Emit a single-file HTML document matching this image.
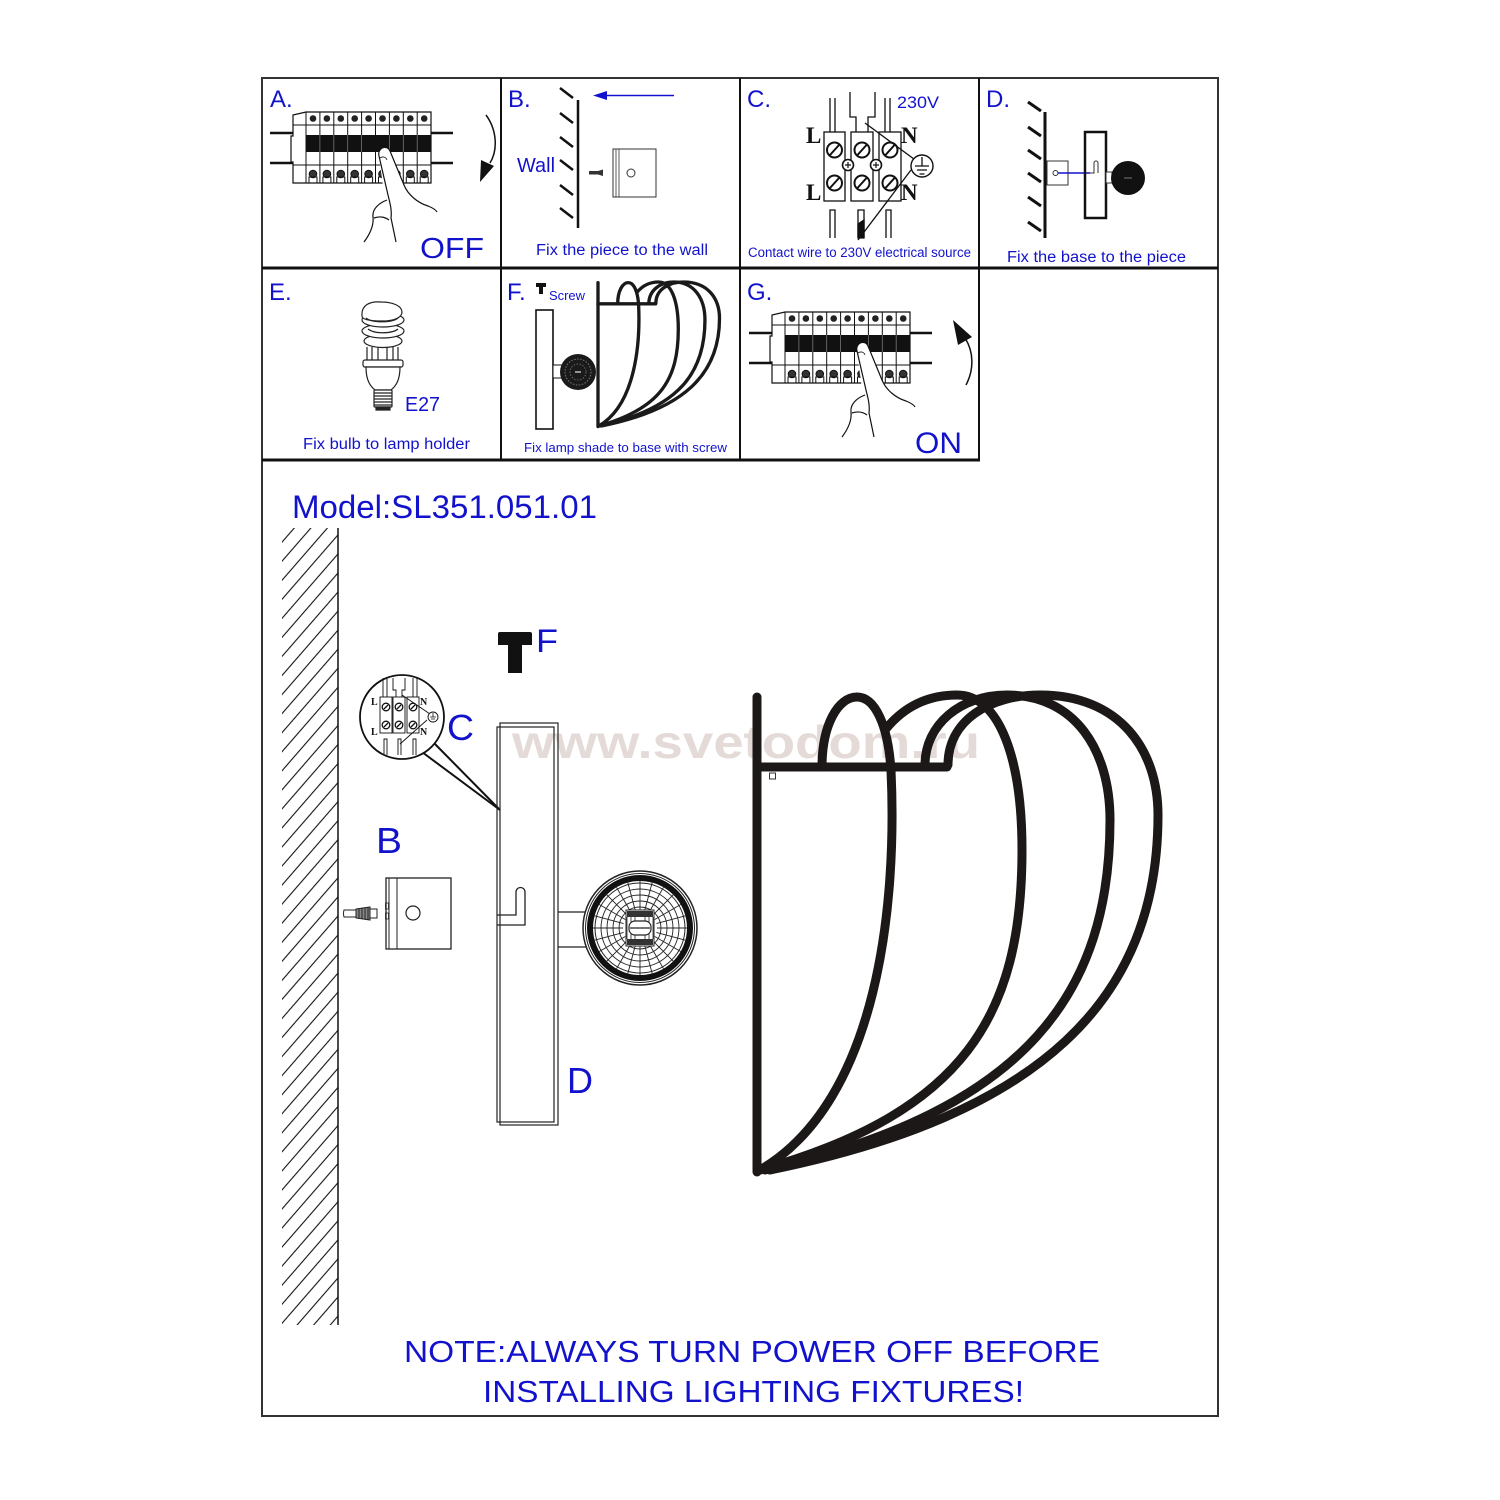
<!DOCTYPE html>
<html>
<head>
<meta charset="utf-8">
<style>
html,body{margin:0;padding:0;background:#fff;}
svg{display:block;}
text{font-family:"Liberation Sans",Arial,sans-serif;}
.bl{fill:#1212cc;}
.serif{font-family:"Liberation Serif","Times New Roman",serif;font-weight:bold;fill:#111;}
</style>
</head>
<body>
<svg width="1500" height="1500" viewBox="0 0 1500 1500" xmlns="http://www.w3.org/2000/svg">
<rect x="0" y="0" width="1500" height="1500" fill="#fff"/>

<defs>
<pattern id="hatch" patternUnits="userSpaceOnUse" width="12" height="12.5" patternTransform="rotate(-49)">
  <line x1="0" y1="6" x2="12" y2="6" stroke="#111" stroke-width="1.1"/>
</pattern>
</defs>

<!-- watermark -->
<text x="512" y="758" font-size="46" font-weight="bold" fill="#e4dbd8" textLength="468" lengthAdjust="spacingAndGlyphs">www.svetodom.ru</text>

<!-- outer border and grid -->
<rect x="262" y="78" width="956" height="1338" fill="none" stroke="#333" stroke-width="2"/>
<line x1="262" y1="268" x2="1218" y2="268" stroke="#111" stroke-width="3"/>
<line x1="262" y1="460" x2="980" y2="460" stroke="#111" stroke-width="3"/>
<line x1="501" y1="78" x2="501" y2="460" stroke="#111" stroke-width="2"/>
<line x1="740" y1="78" x2="740" y2="460" stroke="#111" stroke-width="2"/>
<line x1="979" y1="78" x2="979" y2="460" stroke="#111" stroke-width="2"/>

<!-- ============ A ============ -->
<text x="270" y="107" font-size="24" class="bl">A.</text>
<g id="brkA" transform="translate(292,112)" stroke="#111" fill="none">
  <path d="M-22,21 H1 M-22,51 H1 M139,21 H161 M139,51 H161" stroke-width="2.5"/>
  <path d="M14,0 H139 V71 H1 V50 H-1 V24 H1 V3 Z" fill="#fff" stroke-width="1.2"/>
  <path d="M14,0 V71 M27.9,0 V71 M41.8,0 V71 M55.7,0 V71 M69.6,0 V71 M83.5,0 V71 M97.4,0 V71 M111.3,0 V71 M125.2,0 V71 M1,13 H139 M1,53 H139" stroke-width="1"/>
  <rect x="14" y="23" width="125" height="17" fill="#111" stroke="none"/>
  <path d="M27.9,23 V40 M41.8,23 V40 M55.7,23 V40 M69.6,23 V40 M97.4,23 V40 M111.3,23 V40 M125.2,23 V40" stroke="#777" stroke-width="0.8"/>
  <g fill="#222" stroke="none">
    <circle cx="21" cy="6.5" r="3.3"/><circle cx="34.9" cy="6.5" r="3.3"/><circle cx="48.8" cy="6.5" r="3.3"/>
    <circle cx="62.7" cy="6.5" r="3.3"/><circle cx="76.6" cy="6.5" r="3.3"/><circle cx="90.5" cy="6.5" r="3.3"/>
    <circle cx="104.4" cy="6.5" r="3.3"/><circle cx="118.3" cy="6.5" r="3.3"/><circle cx="132.2" cy="6.5" r="3.3"/>
  </g>
  <g stroke-width="1">
    <circle cx="21" cy="62" r="3.8" fill="#333"/><circle cx="34.9" cy="62" r="3.8" fill="#333"/><circle cx="48.8" cy="62" r="3.8" fill="#333"/>
    <circle cx="62.7" cy="62" r="3.8" fill="#333"/><circle cx="76.6" cy="62" r="3.8" fill="#333"/><circle cx="90.5" cy="62" r="3.8" fill="#333"/>
    <circle cx="104.4" cy="62" r="3.8" fill="#333"/><circle cx="118.3" cy="62" r="3.8" fill="#333"/><circle cx="132.2" cy="62" r="3.8" fill="#333"/>
    <path d="M17,71 V65 H25 V71 M30.9,71 V65 H38.9 V71 M44.8,71 V65 H52.8 V71 M58.7,71 V65 H66.7 V71 M72.6,71 V65 H80.6 V71 M86.5,71 V65 H94.5 V71 M100.4,71 V65 H108.4 V71 M114.3,71 V65 H122.3 V71 M128.2,71 V65 H136.2 V71"/>
  </g>
</g>
<g id="handA" stroke="#111" stroke-width="1.2" fill="none">
  <path d="M379,156 C377,148 387,144 390,151 L404,185 C408,195 418,203 428,206 C433,208 436,210 437,212 L420,236 L366,244 L372,214 L385,202 Z" fill="#fff" stroke="none"/>
  <path d="M379,156 C377,148 387,144 390,151 L404,185 C408,195 418,203 428,206 C433,208 436,210 437,212"/>
  <path d="M379,156 L388,195 C390,203 392,210 391,218 L396,242"/>
  <path d="M387,200 C379,203 372,209 373,217 C374,226 370,234 364,242"/>
  <path d="M374,218 C380,216 385,217 389,220"/>
  <path d="M380,158 C383,156 386,157 387,160" stroke-width="0.8"/>
</g>
<path d="M486,115 C497,130 498,150 490,163" fill="none" stroke="#111" stroke-width="1.5"/>
<polygon points="480,182 481,160 494,166" fill="#111"/>
<text x="420" y="258" font-size="29" class="bl" textLength="64" lengthAdjust="spacingAndGlyphs">OFF</text>

<!-- ============ B ============ -->
<text x="508" y="107" font-size="24" class="bl">B.</text>
<line x1="600" y1="95.5" x2="674" y2="95.5" stroke="#1212cc" stroke-width="1.5"/>
<polygon points="593,95.5 607,91 607,100" fill="#1212cc"/>
<line x1="578" y1="100" x2="578" y2="228" stroke="#111" stroke-width="2.5"/>
<g stroke="#111" stroke-width="2.5">
  <line x1="560" y1="88" x2="573" y2="98"/><line x1="560" y1="113" x2="573" y2="123"/>
  <line x1="560" y1="137" x2="573" y2="147"/><line x1="560" y1="160" x2="573" y2="170"/>
  <line x1="560" y1="185" x2="573" y2="195"/><line x1="560" y1="208" x2="573" y2="218"/>
</g>
<text x="517" y="172" font-size="20" class="bl" textLength="38" lengthAdjust="spacingAndGlyphs">Wall</text>
<rect x="613" y="149" width="43" height="48" fill="#fff" stroke="#333" stroke-width="1"/>
<line x1="616" y1="149" x2="616" y2="197" stroke="#333" stroke-width="0.8"/>
<line x1="619" y1="149" x2="619" y2="197" stroke="#333" stroke-width="0.8"/>
<circle cx="631" cy="173" r="4" fill="none" stroke="#333" stroke-width="1"/>
<path d="M589,171 H598 L603,169.5 V176 L598,174.5 H589 Z" fill="#333"/>
<text x="536" y="255" font-size="15.5" class="bl" textLength="172" lengthAdjust="spacingAndGlyphs">Fix the piece to the wall</text>

<!-- ============ C ============ -->
<text x="747" y="107" font-size="24" class="bl">C.</text>
<g stroke="#111" fill="none" stroke-width="1.3">
  <path d="M830,98 V132 M835,98 V132 M885,98 V132 M890,98 V132"/>
  <path d="M850,92 V117 H856 V132 M875,92 V117 H868 V132"/>
  <rect x="824" y="132" width="21" height="69" fill="#fff"/>
  <rect x="851" y="132" width="22" height="69" fill="#fff"/>
  <rect x="879" y="132" width="22" height="69" fill="#fff"/>
  <g stroke-width="2">
    <circle cx="834.5" cy="150" r="7.5"/><line x1="830" y1="155" x2="839" y2="145"/>
    <circle cx="862" cy="150" r="7.5"/><line x1="857.5" y1="155" x2="866.5" y2="145"/>
    <circle cx="890" cy="150" r="7.5"/><line x1="885.5" y1="155" x2="894.5" y2="145"/>
    <circle cx="834.5" cy="183" r="7.5"/><line x1="830" y1="188" x2="839" y2="178"/>
    <circle cx="862" cy="183" r="7.5"/><line x1="857.5" y1="188" x2="866.5" y2="178"/>
    <circle cx="890" cy="183" r="7.5"/><line x1="885.5" y1="188" x2="894.5" y2="178"/>
  </g>
  <circle cx="848" cy="165" r="5.5" fill="#fff" stroke-width="1.6"/>
  <path d="M845,165 H851 M848,162 V168" stroke-width="1.2"/>
  <circle cx="876" cy="165" r="5.5" fill="#fff" stroke-width="1.6"/>
  <path d="M873,165 H879 M876,162 V168" stroke-width="1.2"/>
  <line x1="865" y1="123" x2="918" y2="162"/>
  <line x1="911" y1="170" x2="858" y2="240"/>
  <circle cx="922" cy="166" r="11" fill="#fff" stroke-width="1.4"/>
  <path d="M922,157 V166 M915,166 H929 M917,170 H927 M919.5,174 H924.5" stroke-width="1.3"/>
  <path d="M830,238 V210 H835 V238 M858,238 V210 H864 V238 M886,238 V210 H891 V238"/>
  <path d="M858,224 L864,220 V238 H858 Z" fill="#111"/>
</g>
<text x="806" y="143" font-size="23" class="serif">L</text>
<text x="806" y="200" font-size="23" class="serif">L</text>
<text x="901" y="143" font-size="23" class="serif">N</text>
<text x="901" y="200" font-size="23" class="serif">N</text>
<text x="897" y="108" font-size="17" class="bl" textLength="42" lengthAdjust="spacingAndGlyphs">230V</text>
<text x="748" y="257" font-size="13.5" class="bl" textLength="223" lengthAdjust="spacingAndGlyphs">Contact wire to 230V electrical source</text>

<!-- ============ D ============ -->
<text x="986" y="107" font-size="24" class="bl">D.</text>
<line x1="1045" y1="112" x2="1045" y2="238" stroke="#111" stroke-width="3"/>
<g stroke="#111" stroke-width="3">
  <line x1="1028" y1="102" x2="1041" y2="111"/><line x1="1028" y1="127" x2="1041" y2="136"/>
  <line x1="1028" y1="150" x2="1041" y2="159"/><line x1="1028" y1="173" x2="1041" y2="182"/>
  <line x1="1028" y1="197" x2="1041" y2="206"/><line x1="1028" y1="222" x2="1041" y2="231"/>
</g>
<rect x="1047" y="161" width="21" height="24" fill="#fff" stroke="#333" stroke-width="1"/>
<circle cx="1055.5" cy="173" r="2.5" fill="none" stroke="#333" stroke-width="1"/>
<line x1="1058" y1="173" x2="1090" y2="173" stroke="#1212cc" stroke-width="1.5"/>
<rect x="1085" y="132" width="21" height="86" fill="none" stroke="#111" stroke-width="2.5"/>
<path d="M1090,173 H1094 V163 A2,2 0 0 1 1098,163 V173" fill="none" stroke="#333" stroke-width="1"/>
<rect x="1106" y="172" width="6" height="11" fill="#fff" stroke="#333" stroke-width="1"/>
<circle cx="1128" cy="178" r="17" fill="#111"/>
<line x1="1124" y1="178" x2="1132" y2="178" stroke="#777" stroke-width="1"/>
<text x="1007" y="262" font-size="15.5" class="bl" textLength="179" lengthAdjust="spacingAndGlyphs">Fix the base to the piece</text>

<!-- ============ E ============ -->
<text x="269" y="300" font-size="24" class="bl">E.</text>
<g stroke="#222" stroke-width="1.2" fill="#fff">
  <path d="M367,347 V362 M372,347 V360 M378,347 V362 M387,347 V362 M393,347 V360 M398,347 V362" fill="none"/>
  <ellipse cx="383" cy="341" rx="19" ry="6.5"/>
  <ellipse cx="383" cy="331" rx="21" ry="7"/>
  <ellipse cx="383" cy="320" rx="21" ry="7"/>
  <path d="M362,316 C361,305 370,301 381,302 C393,302 402,306 402,312 C402,318 393,321 382,321 C371,321 362,320 362,316 Z"/>
  <path d="M366,318 C372,323 392,323 398,318" fill="none"/>
  <path d="M368,329 C374,334 392,334 398,329" fill="none"/>
  <rect x="363" y="360" width="40" height="7" rx="2"/>
  <path d="M366,367 H400 C400,380 396,386 391,390 H375 C370,386 366,380 366,367 Z"/>
  <rect x="374" y="390" width="18" height="17" rx="1"/>
  <path d="M374,393 H392 M374,396 H392 M374,399 H392 M374,402 H392 M374,405 H392" fill="none"/>
  <path d="M376,407 H390 V410 H376 Z" fill="#222"/>
</g>
<text x="405" y="411" font-size="20" class="bl" textLength="35" lengthAdjust="spacingAndGlyphs">E27</text>
<text x="303" y="449" font-size="15.5" class="bl" textLength="167" lengthAdjust="spacingAndGlyphs">Fix bulb to lamp holder</text>

<!-- ============ F ============ -->
<text x="507" y="300" font-size="24" class="bl">F.</text>
<path d="M536,283 H546 V287 H543 V294 H539 V287 H536 Z" fill="#111"/>
<text x="549" y="300" font-size="13" class="bl" textLength="36" lengthAdjust="spacingAndGlyphs">Screw</text>
<rect x="536" y="310" width="17" height="119" fill="none" stroke="#111" stroke-width="1.6"/>
<rect x="553" y="365" width="9" height="13" fill="#fff" stroke="#111" stroke-width="1"/>
<circle cx="578" cy="372" r="18" fill="#1a1a1a"/>
<circle cx="578" cy="372" r="13" fill="none" stroke="#777" stroke-width="1" stroke-dasharray="1.5 1.5"/>
<circle cx="578" cy="372" r="8" fill="none" stroke="#666" stroke-width="1" stroke-dasharray="1.5 1.5"/>
<line x1="575" y1="372" x2="581" y2="372" stroke="#bbb" stroke-width="1.5"/>
<g transform="translate(598,282) scale(0.303) translate(-757,-695)" fill="none" stroke="#1a1a1a" stroke-width="11" stroke-linecap="round" stroke-linejoin="round">
  <path d="M757,697 V1172"/>
  <path d="M757,767 H947"/>
  <path d="M822,767 C822,725 838,697 857,697 C875,697 888,725 891,770 C897,900 880,1100 760,1170"/>
  <path d="M885,730 C905,705 930,695 957,695 C1000,695 1022,760 1022,850 C1022,1015 965,1112 760,1170"/>
  <path d="M925,765 C925,725 960,695 1007,695 C1075,695 1110,750 1110,820 C1110,990 1030,1110 765,1170"/>
  <path d="M948,765 C948,720 990,695 1040,695 C1120,695 1158,750 1158,815 C1158,1000 1040,1115 770,1170"/>
</g>
<text x="524" y="452" font-size="13" class="bl" textLength="203" lengthAdjust="spacingAndGlyphs">Fix lamp shade to base with screw</text>

<!-- ============ G ============ -->
<text x="747" y="300" font-size="24" class="bl">G.</text>
<g transform="translate(479,200)">
  <g transform="translate(292,112)" stroke="#111" fill="none">
    <path d="M-22,21 H1 M-22,51 H1 M139,21 H161 M139,51 H161" stroke-width="2.5"/>
    <path d="M14,0 H139 V71 H1 V50 H-1 V24 H1 V3 Z" fill="#fff" stroke-width="1.2"/>
    <path d="M14,0 V71 M27.9,0 V71 M41.8,0 V71 M55.7,0 V71 M69.6,0 V71 M83.5,0 V71 M97.4,0 V71 M111.3,0 V71 M125.2,0 V71 M1,13 H139 M1,53 H139" stroke-width="1"/>
    <rect x="14" y="23" width="125" height="17" fill="#111" stroke="none"/>
    <path d="M27.9,23 V40 M41.8,23 V40 M55.7,23 V40 M69.6,23 V40 M97.4,23 V40 M111.3,23 V40 M125.2,23 V40" stroke="#777" stroke-width="0.8"/>
    <g fill="#222" stroke="none">
      <circle cx="21" cy="6.5" r="3.3"/><circle cx="34.9" cy="6.5" r="3.3"/><circle cx="48.8" cy="6.5" r="3.3"/>
      <circle cx="62.7" cy="6.5" r="3.3"/><circle cx="76.6" cy="6.5" r="3.3"/><circle cx="90.5" cy="6.5" r="3.3"/>
      <circle cx="104.4" cy="6.5" r="3.3"/><circle cx="118.3" cy="6.5" r="3.3"/><circle cx="132.2" cy="6.5" r="3.3"/>
    </g>
    <g stroke-width="1">
      <circle cx="21" cy="62" r="3.8" fill="#333"/><circle cx="34.9" cy="62" r="3.8" fill="#333"/><circle cx="48.8" cy="62" r="3.8" fill="#333"/>
      <circle cx="62.7" cy="62" r="3.8" fill="#333"/><circle cx="76.6" cy="62" r="3.8" fill="#333"/><circle cx="90.5" cy="62" r="3.8" fill="#333"/>
      <circle cx="104.4" cy="62" r="3.8" fill="#333"/><circle cx="118.3" cy="62" r="3.8" fill="#333"/><circle cx="132.2" cy="62" r="3.8" fill="#333"/>
      <path d="M17,71 V65 H25 V71 M30.9,71 V65 H38.9 V71 M44.8,71 V65 H52.8 V71 M58.7,71 V65 H66.7 V71 M72.6,71 V65 H80.6 V71 M86.5,71 V65 H94.5 V71 M100.4,71 V65 H108.4 V71 M114.3,71 V65 H122.3 V71 M128.2,71 V65 H136.2 V71"/>
    </g>
  </g>
  <g stroke="#111" stroke-width="1.2" fill="none" transform="translate(-1,-5)">
    <path d="M379,156 C377,148 387,144 390,151 L404,185 C408,195 418,203 428,206 C433,208 436,210 437,212 L420,236 L366,244 L372,214 L385,202 Z" fill="#fff" stroke="none"/>
    <path d="M379,156 C377,148 387,144 390,151 L404,185 C408,195 418,203 428,206 C433,208 436,210 437,212"/>
    <path d="M379,156 L388,195 C390,203 392,210 391,218 L396,242"/>
    <path d="M387,200 C379,203 372,209 373,217 C374,226 370,234 364,242"/>
    <path d="M374,218 C380,216 385,217 389,220"/>
    <path d="M380,158 C383,156 386,157 387,160" stroke-width="0.8"/>
  </g>
</g>
<path d="M966,385 C974,370 974,352 965,338" fill="none" stroke="#111" stroke-width="1.5"/>
<polygon points="953,320 958,345 972,337" fill="#111"/>
<text x="915" y="453" font-size="30" class="bl" textLength="47" lengthAdjust="spacingAndGlyphs">ON</text>

<!-- ============ MAIN DIAGRAM ============ -->
<text x="292" y="518" font-size="32" class="bl" textLength="305" lengthAdjust="spacingAndGlyphs">Model:SL351.051.01</text>

<!-- wall -->
<rect x="282" y="528" width="56" height="797" fill="url(#hatch)"/>
<line x1="338" y1="528" x2="338" y2="1325" stroke="#111" stroke-width="1.5"/>

<!-- T screw F -->
<path d="M498,634 Q498,632 500,632 H530 Q532,632 532,634 V645 H522 V673 H508 V645 H498 Z" fill="#111"/>
<text x="536" y="652" font-size="32" class="bl" textLength="22" lengthAdjust="spacingAndGlyphs">F</text>

<!-- C detail circle -->
<line x1="433" y1="742" x2="500" y2="810" stroke="#111" stroke-width="2"/>
<line x1="422" y1="752" x2="500" y2="810" stroke="#111" stroke-width="2"/>
<circle cx="402" cy="717" r="42" fill="#fff" stroke="#111" stroke-width="1.8"/>
<g stroke="#111" fill="none" stroke-width="0.9">
  <path d="M383,678 V697 M387,678 V697 M413,678 V697 M417,678 V697"/>
  <path d="M393,678 V690 H396 V697 M405,678 V690 H402 V697"/>
  <rect x="380" y="697" width="12" height="36" fill="#fff"/>
  <rect x="393" y="697" width="12" height="36" fill="#fff"/>
  <rect x="407" y="697" width="12" height="36" fill="#fff"/>
  <g stroke-width="1.3">
    <circle cx="386" cy="707" r="3.8"/><circle cx="399" cy="707" r="3.8"/><circle cx="413" cy="707" r="3.8"/>
    <circle cx="386" cy="725" r="3.8"/><circle cx="399" cy="725" r="3.8"/><circle cx="413" cy="725" r="3.8"/>
    <path d="M384,709 L388,705 M397,709 L401,705 M411,709 L415,705 M384,727 L388,723 M397,727 L401,723 M411,727 L415,723"/>
  </g>
  <line x1="402" y1="695" x2="430" y2="714"/>
  <line x1="427" y1="720" x2="400" y2="744"/>
  <circle cx="433" cy="717" r="5" fill="#fff"/>
  <path d="M433,713 V717 M430,717 H436 M431,719 H435" stroke-width="0.8"/>
  <path d="M384,755 V739 H387 V755 M398,755 V739 H401 V755 M413,755 V739 H416 V755"/>
</g>
<text x="371" y="705" font-size="10" class="serif">L</text>
<text x="371" y="735" font-size="10" class="serif">L</text>
<text x="420" y="705" font-size="10" class="serif">N</text>
<text x="420" y="735" font-size="10" class="serif">N</text>
<text x="447" y="740" font-size="36" class="bl" textLength="27" lengthAdjust="spacingAndGlyphs">C</text>

<!-- B piece -->
<text x="376" y="853" font-size="36" class="bl" textLength="26" lengthAdjust="spacingAndGlyphs">B</text>
<rect x="386" y="878" width="65" height="71" fill="none" stroke="#222" stroke-width="1.3"/>
<line x1="389" y1="878" x2="389" y2="949" stroke="#222" stroke-width="1"/>
<line x1="397" y1="878" x2="397" y2="949" stroke="#222" stroke-width="1"/>
<rect x="385.5" y="903" width="3" height="6" fill="none" stroke="#222" stroke-width="0.8"/>
<rect x="385.5" y="913" width="3" height="6" fill="none" stroke="#222" stroke-width="0.8"/>
<circle cx="413" cy="913" r="7" fill="none" stroke="#222" stroke-width="1.2"/>
<g stroke="#222" stroke-width="1" fill="#fff">
  <path d="M344,910 H356 V917 H344 Q343,913.5 344,910 Z"/>
  <path d="M356,909 L370,907 V920 L356,918 Z" fill="#888"/>
  <path d="M359,908 V919 M362,908 V919 M365,907.5 V919.5 M368,907 V920"/>
  <path d="M370,909 H377 V918 H370 Z"/>
</g>

<!-- D base -->
<rect x="497" y="727" width="57" height="395" fill="none" stroke="#222" stroke-width="1.2"/>
<rect x="500" y="723" width="58" height="402" fill="none" stroke="#222" stroke-width="1.2"/>
<path d="M497,915 H516 V892 A4.5,4.5 0 0 1 525,892 V925 H497" fill="none" stroke="#222" stroke-width="1.3"/>
<line x1="558" y1="912" x2="586" y2="912" stroke="#222" stroke-width="1.2"/>
<line x1="558" y1="947" x2="586" y2="947" stroke="#222" stroke-width="1.2"/>
<g transform="translate(640,928)" fill="none" stroke="#222">
  <circle r="57" fill="#fff" stroke-width="1.5"/>
  <circle r="54.5" stroke-width="1"/>
  <circle r="50" stroke="#111" stroke-width="6"/>
  <circle r="45" stroke-width="1"/>
  <circle r="39" stroke-width="0.9"/>
  <circle r="33" stroke-width="0.9"/>
  <circle r="27" stroke-width="0.9"/>
  <circle r="21" stroke-width="0.9"/>
  <g stroke-width="0.9">
    <line x1="17" y1="0" x2="47" y2="0" transform="rotate(0)"/>
    <line x1="17" y1="0" x2="47" y2="0" transform="rotate(15)"/>
    <line x1="17" y1="0" x2="47" y2="0" transform="rotate(30)"/>
    <line x1="17" y1="0" x2="47" y2="0" transform="rotate(45)"/>
    <line x1="17" y1="0" x2="47" y2="0" transform="rotate(60)"/>
    <line x1="17" y1="0" x2="47" y2="0" transform="rotate(75)"/>
    <line x1="17" y1="0" x2="47" y2="0" transform="rotate(90)"/>
    <line x1="17" y1="0" x2="47" y2="0" transform="rotate(105)"/>
    <line x1="17" y1="0" x2="47" y2="0" transform="rotate(120)"/>
    <line x1="17" y1="0" x2="47" y2="0" transform="rotate(135)"/>
    <line x1="17" y1="0" x2="47" y2="0" transform="rotate(150)"/>
    <line x1="17" y1="0" x2="47" y2="0" transform="rotate(165)"/>
    <line x1="17" y1="0" x2="47" y2="0" transform="rotate(180)"/>
    <line x1="17" y1="0" x2="47" y2="0" transform="rotate(195)"/>
    <line x1="17" y1="0" x2="47" y2="0" transform="rotate(210)"/>
    <line x1="17" y1="0" x2="47" y2="0" transform="rotate(225)"/>
    <line x1="17" y1="0" x2="47" y2="0" transform="rotate(240)"/>
    <line x1="17" y1="0" x2="47" y2="0" transform="rotate(255)"/>
    <line x1="17" y1="0" x2="47" y2="0" transform="rotate(270)"/>
    <line x1="17" y1="0" x2="47" y2="0" transform="rotate(285)"/>
    <line x1="17" y1="0" x2="47" y2="0" transform="rotate(300)"/>
    <line x1="17" y1="0" x2="47" y2="0" transform="rotate(315)"/>
    <line x1="17" y1="0" x2="47" y2="0" transform="rotate(330)"/>
    <line x1="17" y1="0" x2="47" y2="0" transform="rotate(345)"/>
  </g>
  <rect x="-14" y="-18" width="28" height="36" fill="#fff" stroke-width="1"/>
  <rect x="-13" y="-17" width="26" height="6" fill="#333" stroke="none"/>
  <rect x="-13" y="11" width="26" height="6" fill="#333" stroke="none"/>
  <path d="M-13,-11 V11 M-9,-11 V11 M-5,-11 V11 M5,-11 V11 M9,-11 V11 M13,-11 V11" stroke-width="0.8"/>
  <rect x="-11" y="-7" width="22" height="14" rx="6" fill="#fff" stroke-width="1.2"/>
  <line x1="-10" y1="0" x2="10" y2="0" stroke-width="1.2"/>
</g>
<text x="567" y="1093" font-size="36" class="bl" textLength="26" lengthAdjust="spacingAndGlyphs">D</text>

<!-- main shade -->
<g fill="none" stroke="#1c1818" stroke-width="9" stroke-linecap="round" stroke-linejoin="round">
  <path d="M757,697 V1172"/>
  <path d="M757,767 H947"/>
  <path d="M822,767 C822,725 838,697 857,697 C875,697 888,725 891,770 C897,900 880,1100 760,1170"/>
  <path d="M885,730 C905,705 930,695 957,695 C1000,695 1022,760 1022,850 C1022,1015 965,1112 760,1170"/>
  <path d="M925,765 C925,725 960,695 1007,695 C1075,695 1110,750 1110,820 C1110,990 1030,1110 765,1170"/>
  <path d="M948,765 C948,720 990,695 1040,695 C1120,695 1158,750 1158,815 C1158,1000 1040,1115 770,1170"/>
</g>
<rect x="769.5" y="773" width="6" height="6" fill="#fff" stroke="#333" stroke-width="1"/>

<!-- note -->
<text x="404" y="1362" font-size="31" class="bl" textLength="696" lengthAdjust="spacingAndGlyphs">NOTE:ALWAYS TURN POWER OFF BEFORE</text>
<text x="483" y="1402" font-size="31" class="bl" textLength="541" lengthAdjust="spacingAndGlyphs">INSTALLING LIGHTING FIXTURES!</text>
</svg>
</body>
</html>
